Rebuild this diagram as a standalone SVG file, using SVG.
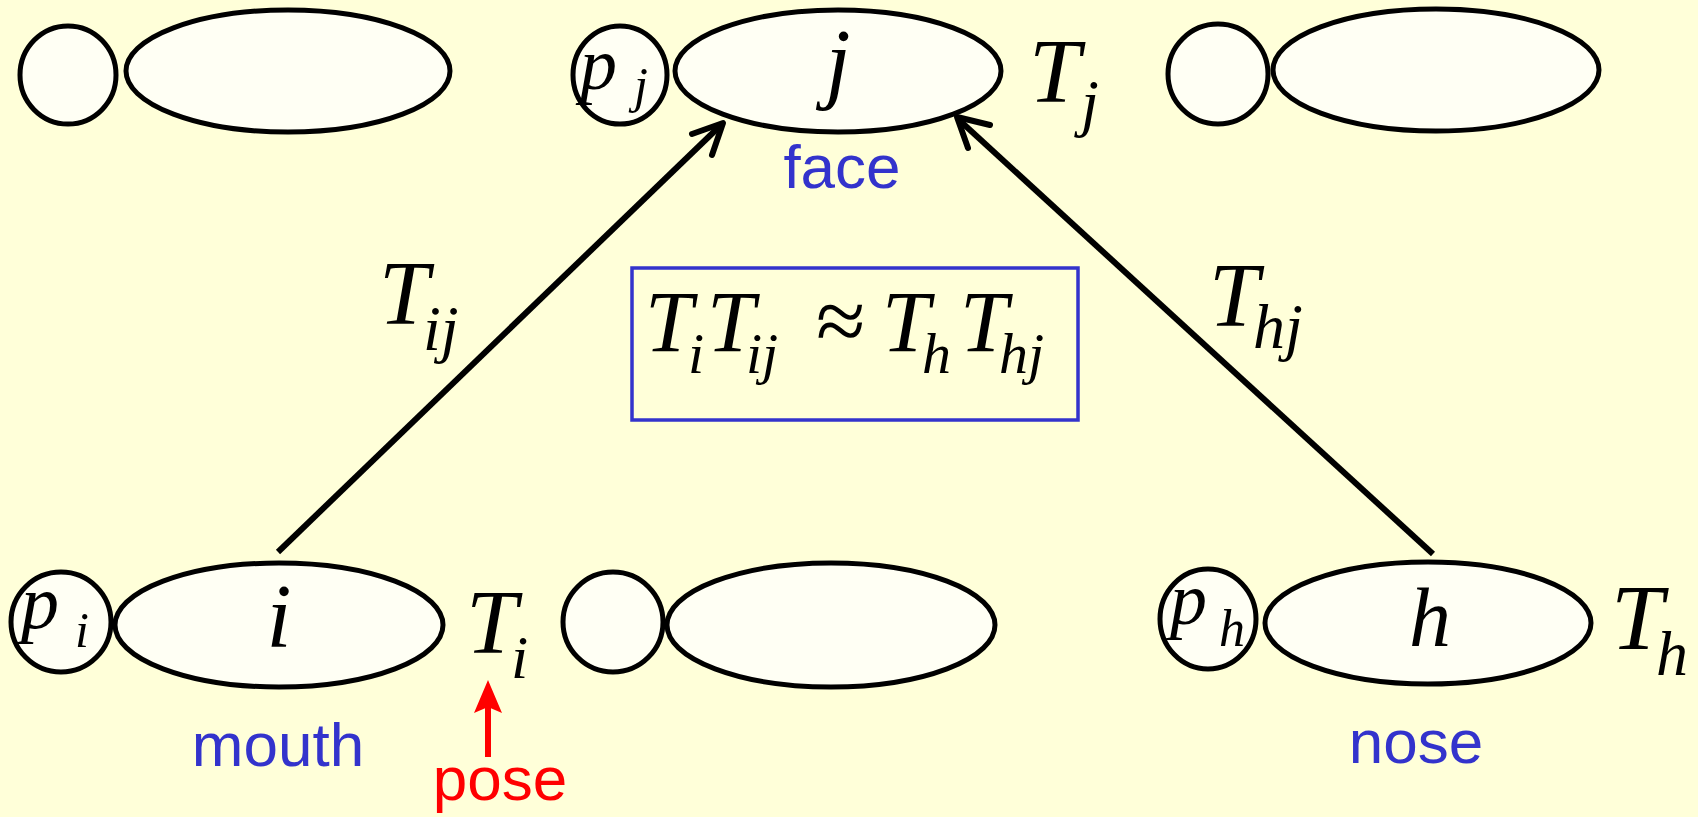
<svg xmlns="http://www.w3.org/2000/svg" width="1698" height="817" viewBox="0 0 1698 817">
<style>
.bg{fill:#FFFFD9}
.n{fill:#FFFFF4;stroke:#000;stroke-width:5}
.m{font-family:"Liberation Serif","Times New Roman",serif;font-style:italic;fill:#000}
.lbl{font-family:"Liberation Sans",Arial,sans-serif;fill:#3333CC;font-size:62px}
.edge{stroke:#000;stroke-width:6;fill:none}
.head{stroke:#000;stroke-width:6;fill:none;stroke-linecap:round;stroke-linejoin:round}
</style>
<rect class="bg" x="0" y="0" width="1698" height="817"/>

<g id="node-top-left">
<ellipse class="n" cx="68" cy="75" rx="48" ry="49"/>
<ellipse class="n" cx="288" cy="71" rx="162" ry="61"/>
</g>

<g id="node-j">
<ellipse class="n" cx="620" cy="75" rx="47" ry="49"/>
<ellipse class="n" cx="838" cy="71" rx="163" ry="61"/>
<text class="m" font-size="74"><tspan x="580" y="89">p</tspan><tspan x="634" y="102" font-size="50">j</tspan></text>
<text class="m" x="838" y="92" font-size="90" text-anchor="middle">j</text>
<text class="m" font-size="92"><tspan x="1029" y="102">T</tspan><tspan x="1081" y="124" font-size="64">j</tspan></text>
<text class="lbl" x="842" y="188" text-anchor="middle">face</text>
</g>

<g id="node-top-right">
<ellipse class="n" cx="1218" cy="74" rx="50" ry="50"/>
<ellipse class="n" cx="1436" cy="70" rx="163" ry="61"/>
</g>

<g id="node-i">
<ellipse class="n" cx="61" cy="622" rx="50" ry="50"/>
<ellipse class="n" cx="279" cy="625" rx="164" ry="62"/>
<text class="m" font-size="76"><tspan x="21" y="628">p</tspan><tspan x="75" y="647" font-size="50">i</tspan></text>
<text class="m" x="279" y="647" font-size="90" text-anchor="middle">i</text>
<text class="m" font-size="92"><tspan x="466" y="653">T</tspan><tspan x="511" y="678" font-size="62">i</tspan></text>
<text class="lbl" x="278" y="766" text-anchor="middle">mouth</text>
</g>

<g id="node-mid">
<ellipse class="n" cx="613" cy="622" rx="50" ry="50"/>
<ellipse class="n" cx="831" cy="625" rx="164" ry="62"/>
</g>

<g id="node-h">
<ellipse class="n" cx="1208" cy="619" rx="48" ry="50"/>
<ellipse class="n" cx="1428" cy="623" rx="163" ry="61"/>
<text class="m" font-size="74"><tspan x="1170" y="624">p</tspan><tspan x="1219" y="646" font-size="52">h</tspan></text>
<text class="m" x="1430" y="646" font-size="84" text-anchor="middle">h</text>
<text class="m" font-size="94"><tspan x="1611" y="649">T</tspan><tspan x="1656" y="675" font-size="64">h</tspan></text>
<text class="lbl" x="1416" y="763" text-anchor="middle">nose</text>
</g>

<g id="equation">
<rect x="632" y="268" width="446" height="152" fill="none" stroke="#3333CC" stroke-width="3.5"/>
<text class="m" font-size="86"><tspan x="645" y="351">T</tspan><tspan x="688" y="373" font-size="58">i</tspan><tspan x="707" y="351">T</tspan><tspan x="746" y="373" font-size="58">ij</tspan><tspan x="816" y="351" font-style="normal" font-size="90">≈</tspan><tspan x="882" y="351">T</tspan><tspan x="922" y="373" font-size="58">h</tspan><tspan x="960" y="351">T</tspan><tspan x="999" y="373" font-size="58">hj</tspan></text>
</g>

<g id="connectors">
<line class="edge" x1="278" y1="552" x2="722" y2="124"/>
<polyline class="head" points="692,134 723,123 712,155"/>
<text class="m" font-size="90"><tspan x="379" y="324">T</tspan><tspan x="423" y="350" font-size="64">ij</tspan></text>
<line class="edge" x1="1433" y1="554" x2="958" y2="119"/>
<polyline class="head" points="990,125 957,117 968,148"/>
<text class="m" font-size="90"><tspan x="1209" y="326">T</tspan><tspan x="1253" y="348" font-size="64">hj</tspan></text>
<line x1="488" y1="757" x2="488" y2="700" stroke="#FF0000" stroke-width="6"/>
<polygon points="488,680 474,713 488,707 502,713" fill="#FF0000"/>
<text x="500" y="800" font-size="62" text-anchor="middle" font-family="Liberation Sans,Arial,sans-serif" fill="#FF0000">pose</text>
</g>
</svg>
